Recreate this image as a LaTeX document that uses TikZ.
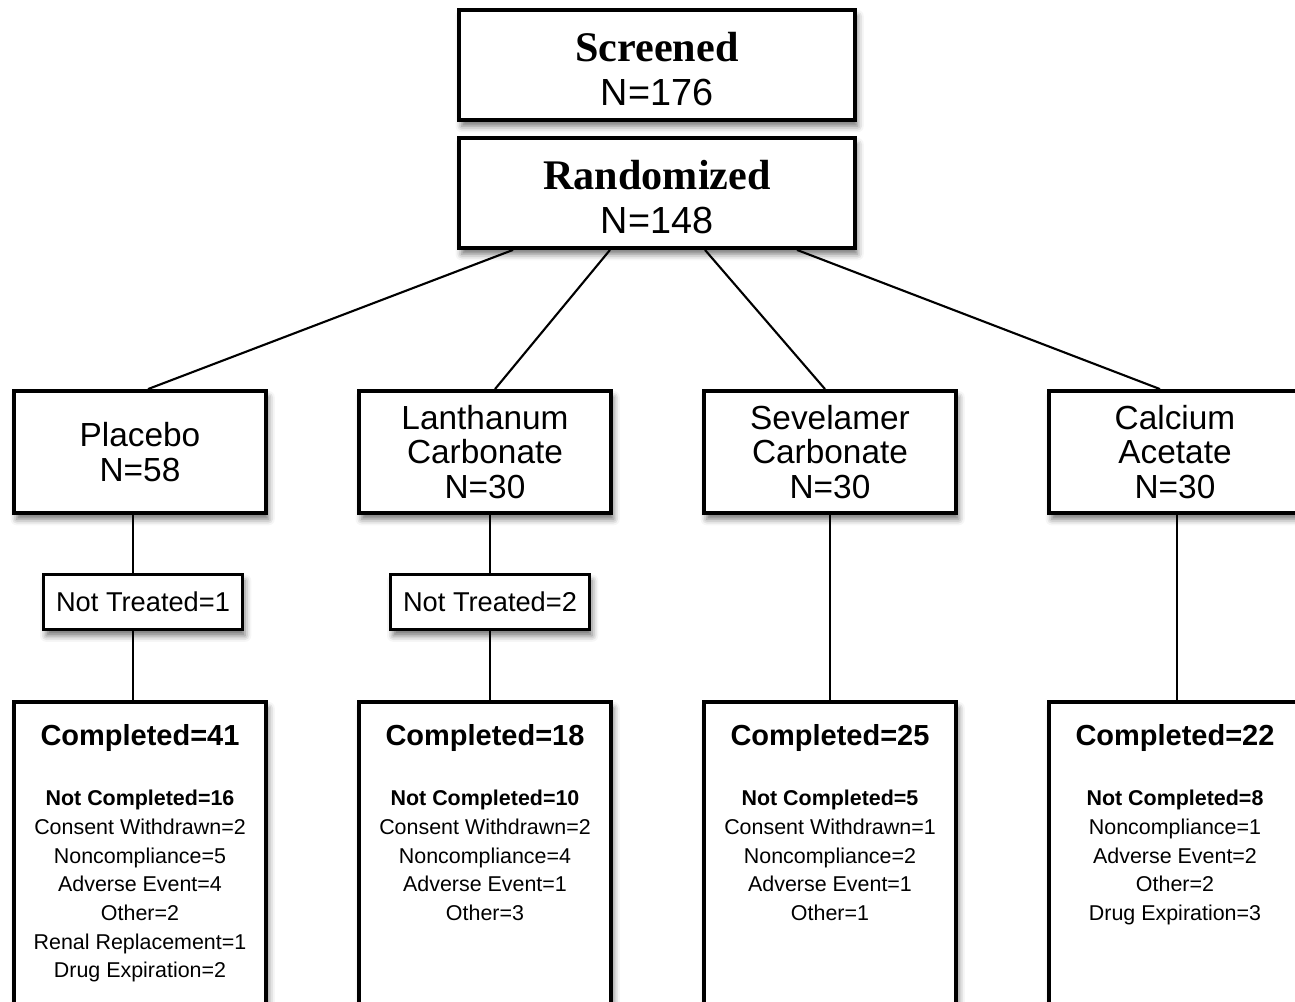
\documentclass[tikz,border=0pt]{standalone}
\usepackage{fontspec}
\setmainfont{Liberation Sans}
\newfontfamily\titleserif{Liberation Serif}
\usepackage{tikz}
\usetikzlibrary{positioning, calc, shadows, shadows.blur}
\tikzset{box/.style={draw, line width=2.2pt, fill=white, align=center, inner sep=0pt,
        blur shadow={shadow xshift=1.5pt, shadow yshift=-3.5pt, shadow blur radius=3.5pt, shadow opacity=55}},
    topbox/.style={box, minimum width=7.92cm, minimum height=2.2cm, font=\fontsize{21.5}{25}\selectfont},
    armbox/.style={box, minimum width=5.04cm, minimum height=2.44cm, font=\fontsize{19}{19.5}\selectfont},
    ntbox/.style={box, minimum width=3.98cm, minimum height=1.1cm, font=\fontsize{15.5}{18}\selectfont},
    compbox/.style={box, anchor=north, minimum width=5.04cm, minimum height=7cm},
    comptitle/.style={font=\fontsize{16.5}{20}\selectfont\bfseries, inner sep=0pt},
    complist/.style={anchor=north, align=center, inner sep=0pt, font=\fontsize{12.2}{16.3}\selectfont},
    link/.style={line width=1.2pt}}
\newcommand{\headline}[1]{{\titleserif\bfseries\fontsize{24}{25}\selectfont\rule{0pt}{21pt}#1}}

\begin{document}
\begin{tikzpicture}[x=0.02cm, y=-0.02cm]
\useasboundingbox (0,0) rectangle (1295,1001);
\node[topbox] (scr) at (657,65) {\headline{Screened}\\N=176};
\node[topbox] (rand) at (657,193) {\headline{Randomized}\\N=148};
\node[armbox] (plac) at (140,452) {Placebo\\N=58};
\node[armbox] (lan) at (485,452) {Lanthanum\\Carbonate\\N=30};
\node[armbox] (sev) at (830,452) {Sevelamer\\Carbonate\\N=30};
\node[armbox] (cal) at (1175,452) {Calcium\\Acetate\\N=30};
\draw[link] ([xshift=-2.88cm]rand.south) -- ([xshift=.16cm]plac.north);
\draw[link] ([xshift=-.94cm]rand.south) -- ([xshift=.2cm]lan.north);
\draw[link] ([xshift=.96cm]rand.south) -- ([xshift=-.1cm]sev.north);
\draw[link] ([xshift=2.8cm]rand.south) -- ([xshift=-.3cm]cal.north);
\node[ntbox] (nt1) at (143,602) {Not Treated=1};
\node[ntbox] (nt2) at (490,602) {Not Treated=2};
\node[compbox] (comp1) at (140,700) {};
\node[compbox] (comp2) at (485,700) {};
\node[compbox] (comp3) at (830,700) {};
\node[compbox] (comp4) at (1175,700) {};
\draw[link] ([xshift=-.14cm]plac.south) -- ([xshift=-.14cm]plac.south |- nt1.north);
\draw[link] ([xshift=-.2cm]nt1.south) -- ([xshift=-.2cm]nt1.south |- comp1.north);
\draw[link] (nt2.north |- lan.south) -- (nt2.north);
\draw[link] (nt2.south) -- (nt2.south |- comp2.north);
\draw[link] (sev.south) -- (comp3.north);
\draw[link] ([xshift=.04cm]cal.south) -- ([xshift=.04cm]comp4.north);
\node[comptitle] (ct1) at ([yshift=-.76cm]comp1.north) {Completed=41};
\node[comptitle] (ct2) at ([yshift=-.76cm]comp2.north) {Completed=18};
\node[comptitle] (ct3) at ([yshift=-.76cm]comp3.north) {Completed=25};
\node[comptitle] (ct4) at ([yshift=-.76cm]comp4.north) {Completed=22};
\node[complist] (cl1) at ([yshift=-1.8cm]comp1.north) {\textbf{Not Completed=16}\\Consent Withdrawn=2\\Noncompliance=5\\Adverse Event=4\\Other=2\\Renal Replacement=1\\Drug Expiration=2};
\node[complist] (cl2) at ([yshift=-1.8cm]comp2.north) {\textbf{Not Completed=10}\\Consent Withdrawn=2\\Noncompliance=4\\Adverse Event=1\\Other=3};
\node[complist] (cl3) at ([yshift=-1.8cm]comp3.north) {\textbf{Not Completed=5}\\Consent Withdrawn=1\\Noncompliance=2\\Adverse Event=1\\Other=1};
\node[complist] (cl4) at ([yshift=-1.8cm]comp4.north) {\textbf{Not Completed=8}\\Noncompliance=1\\Adverse Event=2\\Other=2\\Drug Expiration=3};
\end{tikzpicture}
\end{document}
